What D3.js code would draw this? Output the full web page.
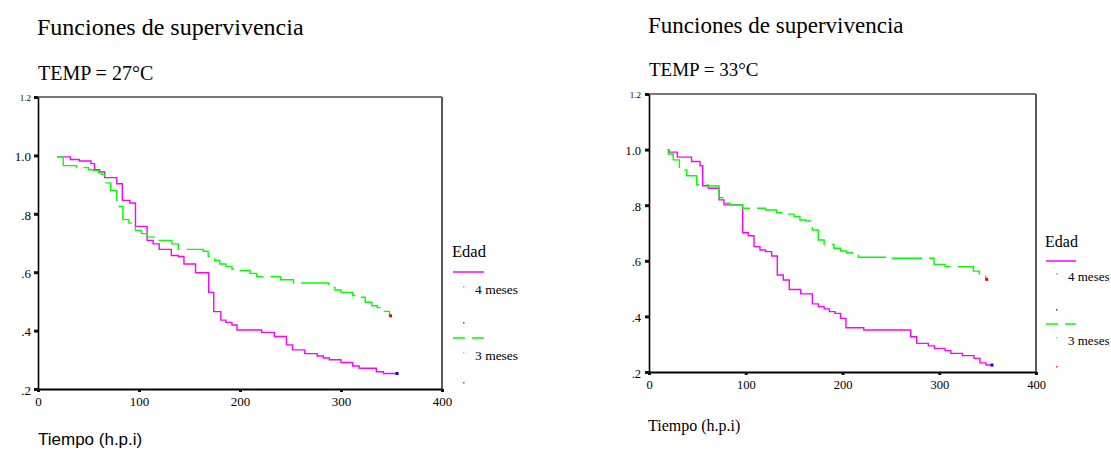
<!DOCTYPE html>
<html>
<head>
<meta charset="utf-8">
<script src="https://cdn.jsdelivr.net/npm/d3@7"></script>
<style>
body { margin: 0; background: white; }
svg { display: block; font-family: "Liberation Serif", "Times New Roman", serif; }
</style>
</head>
<body>
<div id="chart"></div>
<script>
// TEMP = 27°C, 4 meses (step times and survival after the step)
const t27_4m = [19, 32, 41, 52.5, 56, 61, 66, 78, 83.5, 91, 96.5, 108, 114, 120, 132, 139, 144.5, 156, 169, 174, 181, 186, 192, 197, 221.5, 234, 246, 252, 264, 276.5, 282.5, 288.5, 300, 311.5, 318, 335, 342, 355]
const s27_4m = [0.995, 0.986, 0.981, 0.972, 0.951, 0.943, 0.924, 0.903, 0.846, 0.837, 0.757, 0.709, 0.697, 0.678, 0.657, 0.654, 0.628, 0.598, 0.531, 0.465, 0.436, 0.428, 0.419, 0.402, 0.394, 0.380, 0.351, 0.334, 0.321, 0.313, 0.306, 0.300, 0.291, 0.279, 0.271, 0.259, 0.253, 0.253]
// TEMP = 27°C, 3 meses
const t27_3m = [19, 25, 38, 50, 55, 60, 63, 66, 72, 78, 84, 90, 96.5, 102.5, 108, 120, 132.5, 139, 163.5, 168.5, 175, 180, 186, 192, 198, 210, 216.5, 240, 253, 288, 294, 300, 311.5, 318, 324, 330.5, 336, 341.5, 348]
const s27_3m = [0.995, 0.965, 0.958, 0.951, 0.947, 0.940, 0.935, 0.906, 0.880, 0.825, 0.780, 0.768, 0.743, 0.732, 0.720, 0.709, 0.697, 0.678, 0.672, 0.654, 0.640, 0.628, 0.620, 0.611, 0.606, 0.596, 0.585, 0.574, 0.563, 0.548, 0.539, 0.531, 0.520, 0.514, 0.497, 0.485, 0.479, 0.466, 0.454]

// TEMP = 33°C, 4 meses
const t33_4m = [19.3, 20.7, 29.3, 44, 52.7, 55.5, 61.3, 72.4, 77.5, 96.8, 102.6, 108.5, 114.7, 120.6, 126.8, 132.6, 138.8, 145, 156.8, 168.8, 175, 181, 186.4, 192.2, 198, 203.6, 222, 270.5, 276.7, 288.7, 295, 306, 312, 324, 336, 342, 348.3, 354]
const s33_4m = [1.0, 0.991, 0.973, 0.957, 0.942, 0.870, 0.861, 0.819, 0.801, 0.701, 0.690, 0.651, 0.639, 0.633, 0.617, 0.549, 0.531, 0.497, 0.481, 0.445, 0.435, 0.427, 0.417, 0.411, 0.393, 0.359, 0.351, 0.327, 0.303, 0.294, 0.285, 0.277, 0.267, 0.259, 0.249, 0.233, 0.225, 0.225]
// TEMP = 33°C, 3 meses
const t33_3m = [19.3, 20, 25, 31.4, 35.5, 39, 49.3, 61.3, 72.4, 78.6, 83.7, 96.8, 120.6, 132, 144, 150, 156, 162, 168.8, 175, 181, 191.2, 198, 204.3, 210.2, 216.4, 246.3, 294.6, 306, 335.2, 341.4, 348]
const s33_3m = [1.0, 0.984, 0.963, 0.936, 0.927, 0.906, 0.873, 0.869, 0.827, 0.807, 0.801, 0.789, 0.783, 0.773, 0.768, 0.759, 0.747, 0.743, 0.711, 0.675, 0.659, 0.645, 0.635, 0.629, 0.621, 0.613, 0.609, 0.587, 0.579, 0.563, 0.553, 0.537]

const xTicks = [0, 100, 200, 300, 400]
const yTicks = [0.2, 0.4, 0.6, 0.8, 1.0, 1.2]
const seriesNames = ["4 meses", "3 meses"]
const temps = ["TEMP = 27°C", "TEMP = 33°C"]

let svg = d3.select("#chart").append("svg")
    .attr("width", 1111).attr("height", 452)
    .style("background", "white")

let fmtY = d => d >= 1 ? d.toFixed(1) : d.toFixed(1).replace(/^0/, "")

function drawPanel(p) {
    let x = d3.scaleLinear().domain([0, 400]).range([p.left, p.right])
    let y = d3.scaleLinear().domain([0.2, 1.2]).range([p.bottom, p.top])
    let g = svg.append("g")

    g.append("text").attr("x", p.titleX).attr("y", p.titleY)
        .style("font-size", p.titleSize + "px").text("Funciones de supervivencia")
    g.append("text").attr("x", p.titleX + 1).attr("y", p.tempY)
        .style("font-size", p.tempSize + "px").text(p.temp)

    // grey frame top / right
    g.append("line").attr("x1", p.left).attr("x2", p.right).attr("y1", p.top).attr("y2", p.top)
        .attr("stroke", "#4a4a4a").attr("stroke-width", 1.5)
    g.append("line").attr("x1", p.right).attr("x2", p.right).attr("y1", p.top).attr("y2", p.bottom + 3)
        .attr("stroke", "#5a5a5a").attr("stroke-width", 2)

    let yAxis = d3.axisLeft(y).tickValues(yTicks).tickFormat(fmtY)
        .tickSize(4).tickSizeOuter(0).tickPadding(p.yPad)
    let ya = g.append("g").attr("transform", `translate(${p.left},0)`).call(yAxis)
        .attr("font-family", "'Liberation Serif', 'Times New Roman', serif").attr("font-size", p.tickSize)
    ya.select(".domain").attr("stroke", "#000").attr("stroke-width", 1.6)
    ya.selectAll(".tick line").attr("stroke", "#111").attr("stroke-width", 3)
    ya.selectAll(".tick text").attr("font-size", d => d >= 1.15 ? p.topTickSize : p.tickSize)
        .attr("dy", "0.4em")

    let xAxis = d3.axisBottom(x).tickValues(xTicks).tickFormat(d3.format("d"))
        .tickSize(3).tickSizeOuter(0).tickPadding(p.xPad)
    let xa = g.append("g").attr("transform", `translate(0,${p.bottom})`).call(xAxis)
        .attr("font-family", "'Liberation Serif', 'Times New Roman', serif").attr("font-size", p.tickSize)
    xa.select(".domain").attr("stroke", "#000").attr("stroke-width", 2)
    xa.selectAll(".tick line").attr("stroke", "#111").attr("stroke-width", 3)

    g.append("text").attr("x", p.xlabX).attr("y", p.xlabY)
        .style("font-family", p.xlabFont).style("font-size", p.xlabSize + "px")
        .text("Tiempo (h.p.i)")

    let line = d3.line().x(d => x(d[0])).y(d => y(d[1])).curve(d3.curveStepAfter)

    g.append("path").datum(d3.zip(p.t4, p.s4)).attr("d", line)
        .attr("fill", "none").attr("stroke", "#ff00ff").attr("stroke-width", 1.4)
    g.append("path").datum(d3.zip(p.t3, p.s3)).attr("d", line)
        .attr("fill", "none").attr("stroke", "#00ff00").attr("stroke-width", 1.4)
        .attr("stroke-dasharray", "30,7")

    // censor marks at the end of each curve
    g.append("rect").attr("x", x(p.t4[p.t4.length - 1]) - 1).attr("y", y(p.s4[p.s4.length - 1]) - 1.5)
        .attr("width", 3).attr("height", 3).attr("fill", "#0000ff")
    g.append("rect").attr("x", x(p.t3[p.t3.length - 1]) - 0.5).attr("y", y(p.s3[p.s3.length - 1]) - 0.5)
        .attr("width", 3).attr("height", 3).attr("fill", "#ff0000")

    // legend
    let L = p.leg
    g.append("text").attr("x", L.x).attr("y", L.y).style("font-size", L.titleSize + "px").text("Edad")
    g.append("line").attr("x1", L.x + 1).attr("x2", L.x + 1 + L.w).attr("y1", L.y + L.d[0]).attr("y2", L.y + L.d[0])
        .attr("stroke", "#ff00ff").attr("stroke-width", 1.5)
    g.append("rect").attr("x", L.dotX).attr("y", L.y + L.d[1]).attr("width", 1.5).attr("height", 1.5).attr("fill", "#ff66ff")
    g.append("text").attr("x", L.textX).attr("y", L.y + L.d[2]).style("font-size", L.size + "px").text(seriesNames[0])
    g.append("rect").attr("x", L.dotX).attr("y", L.y + L.d[3]).attr("width", 1.5).attr("height", 1.5).attr("fill", "#3333ff")
    g.append("line").attr("x1", L.x + 1).attr("x2", L.x + 1 + L.w).attr("y1", L.y + L.d[4]).attr("y2", L.y + L.d[4])
        .attr("stroke", "#00ff00").attr("stroke-width", 1.5).attr("stroke-dasharray", "12,7")
    g.append("rect").attr("x", L.dotX).attr("y", L.y + L.d[5]).attr("width", 1.5).attr("height", 1.5).attr("fill", "#66ff66")
    g.append("text").attr("x", L.textX).attr("y", L.y + L.d[6]).style("font-size", L.size + "px").text(seriesNames[1])
    g.append("rect").attr("x", L.dotX).attr("y", L.y + L.d[7]).attr("width", 1.5).attr("height", 1.5).attr("fill", "#ff3333")
}

drawPanel({
    left: 38, right: 442, top: 97, bottom: 389,
    titleX: 37, titleY: 35, titleSize: 24, tempY: 80, tempSize: 20, temp: temps[0],
    tickSize: 13, topTickSize: 9, yPad: 3, xPad: 5,
    xlabX: 38, xlabY: 445, xlabSize: 17, xlabFont: "'Liberation Sans', Arial, sans-serif",
    t4: t27_4m, s4: s27_4m, t3: t27_3m, s3: s27_3m,
    leg: { x: 452, y: 257, w: 31, dotX: 463, textX: 475, titleSize: 16.5, size: 13.5,
        d: [15, 29, 37, 65, 81, 95, 103, 125] }
})

drawPanel({
    left: 649, right: 1036, top: 94, bottom: 372,
    titleX: 648, titleY: 33, titleSize: 23, tempY: 76, tempSize: 19, temp: temps[1],
    tickSize: 12.5, topTickSize: 9, yPad: 4, xPad: 5,
    xlabX: 648, xlabY: 431, xlabSize: 16, xlabFont: "'Liberation Serif', 'Times New Roman', serif",
    t4: t33_4m, s4: s33_4m, t3: t33_3m, s3: s33_3m,
    leg: { x: 1045, y: 247, w: 30, dotX: 1056, textX: 1068, titleSize: 16, size: 13,
        d: [14, 26, 34, 62, 77, 90, 98, 119] }
})
</script>
</body>
</html>
